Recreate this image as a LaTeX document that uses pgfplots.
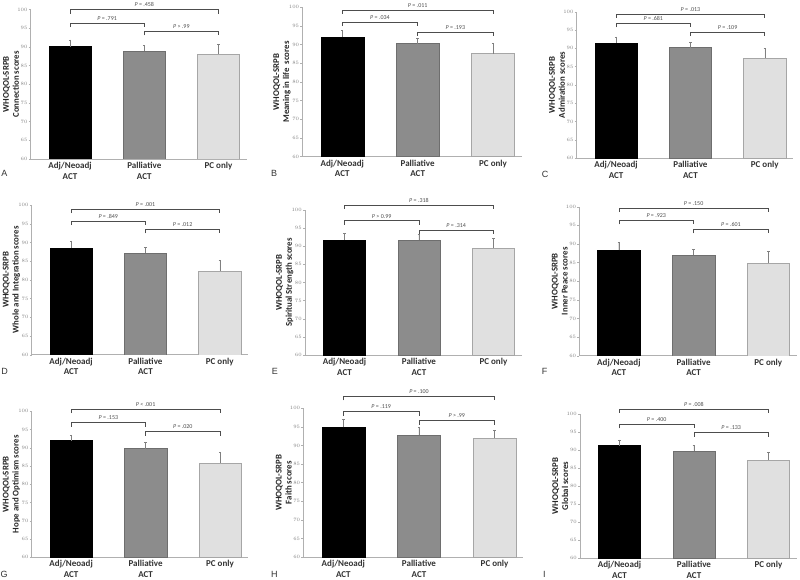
\documentclass[border=0pt]{standalone}
\usepackage{pgfplots}
\pgfplotsset{compat=1.18}
\usepackage{fontspec}
\setmainfont{Carlito}
\newfontfamily\arialfont{Liberation Sans}
\definecolor{barB}{HTML}{8C8C8C}
\definecolor{barBd}{HTML}{6E6E6E}
\definecolor{barC}{HTML}{E0E0E0}
\definecolor{barCd}{HTML}{A6A6A6}
\definecolor{axgray}{HTML}{B0B0B0}
\definecolor{brk}{HTML}{4D4D4D}
\pgfplotsset{
 panel/.style={
  scale only axis, anchor=south west,
  xmin=-0.53, xmax=2.38, ymin=60, ymax=100,
  ytick={60,65,...,100},
  xtick={0,1,2}, xticklabels={{Adj/Neoadj\\ACT},{Palliative\\ACT},{PC only}},
  axis x line*=bottom, axis y line*=left,
  axis line style={draw=axgray, line width=0.6pt},
  ytick style={draw=axgray, line width=0.4pt}, xtick style={draw=none},
  tick align=outside, major tick length=2pt,
  yticklabel style={font=\fontsize{3}{3}\selectfont, text=gray, inner sep=1pt},
  xticklabel style={align=center, font=\bfseries\fontsize{9}{10.5}\selectfont, text=black!80, inner sep=1pt},
  ylabel style={at={(axis description cs:0,0.5)}, anchor=south, yshift=11.5pt, align=center, font=\bfseries\fontsize{8.8}{10}\selectfont, text=black!85, inner sep=0pt},
  ybar, bar width=0.57, bar shift=0pt,
  clip mode=individual,
  error bars/y dir=plus, error bars/y explicit,
  error bars/error bar style={draw=gray, line width=0.5pt},
  error bars/error mark options={rotate=90, mark size=1.2pt, draw=gray, line width=0.5pt},
 },
 bA/.style={fill=black, draw=black},
 bB/.style={fill=barB, draw=barBd},
 bC/.style={fill=barC, draw=barCd},
}
\newcommand{\brk}[4]{%
 \draw[brk, line width=0.8pt] ([yshift=-4pt]axis cs:#1,#3) -- (axis cs:#1,#3) -- (axis cs:#2,#3) -- ([yshift=-4pt]axis cs:#2,#3);
 \node[font=\fontsize{6}{6}\selectfont, text=brk, anchor=south, inner sep=1pt, yshift=1.5pt] at (axis cs:{(#1+#2)/2},#3) {#4};}
\newcommand{\lett}[3]{\node[anchor=base west, font=\arialfont\fontsize{9}{9}\selectfont, text=black!80, inner sep=0pt] at (#1pt,#2pt) {#3};}
\begin{document}
\begin{tikzpicture}
\path[use as bounding box] (0,0) rectangle (800pt,579pt);
% A
\begin{axis}[panel, at={(30.7pt,420pt)}, width=216pt, height=149.3pt, ylabel={WHOQOL-SRPB\\Connection scores}]
\addplot[bA] coordinates {(0,90.1) +- (0,1.8)};
\addplot[bB] coordinates {(1,88.9) +- (0,1.5)};
\addplot[bC] coordinates {(2,88.0) +- (0,2.8)};
\brk{0}{2}{100.0}{{\itshape P} = .458}
\brk{0}{1}{96.4}{{\itshape P} = .791}
\brk{1}{2}{94.2}{{\itshape P} > .99}
\end{axis}
% B
\begin{axis}[panel, at={(302.3pt,422.3pt)}, width=219.4pt, height=149.4pt, ylabel={WHOQOL-SRPB\\Meaning in life\ \ scores}]
\addplot[bA] coordinates {(0,92.05) +- (0,1.75)};
\addplot[bB] coordinates {(1,90.3) +- (0,1.4)};
\addplot[bC] coordinates {(2,87.6) +- (0,2.7)};
\brk{0}{2}{99.3}{{\itshape P} = .011}
\brk{0}{1}{96.0}{{\itshape P} = .034}
\brk{1}{2}{93.4}{{\itshape P} = .193}
\end{axis}
% C
\begin{axis}[panel, at={(576.7pt,420.7pt)}, width=216.3pt, height=146.6pt, ylabel={WHOQOL-SRPB\\Admiration scores}]
\addplot[bA] coordinates {(0,91.5) +- (0,1.6)};
\addplot[bB] coordinates {(1,90.2) +- (0,1.5)};
\addplot[bC] coordinates {(2,87.3) +- (0,2.7)};
\brk{0}{2}{99.4}{{\itshape P} = .013}
\brk{0}{1}{96.8}{{\itshape P} = .681}
\brk{1}{2}{94.4}{{\itshape P} = .109}
\end{axis}
% D
\begin{axis}[panel, at={(31.7pt,224.3pt)}, width=216.3pt, height=149.7pt, ylabel={WHOQOL-SRPB\\Whole and Integration scores}]
\addplot[bA] coordinates {(0,88.5) +- (0,1.9)};
\addplot[bB] coordinates {(1,87.1) +- (0,1.65)};
\addplot[bC] coordinates {(2,82.4) +- (0,2.8)};
\brk{0}{2}{98.9}{{\itshape P} = .001}
\brk{0}{1}{95.7}{{\itshape P} = .849}
\brk{1}{2}{93.5}{{\itshape P} = .012}
\end{axis}
% E
\begin{axis}[panel, at={(305pt,224pt)}, width=216.7pt, height=145pt, ylabel={WHOQOL-SRPB\\Spiritual Strength scores}]
\addplot[bA] coordinates {(0,91.8) +- (0,1.8)};
\addplot[bB] coordinates {(1,91.65) +- (0,1.55)};
\addplot[bC] coordinates {(2,89.6) +- (0,2.5)};
\brk{0}{2}{101.4}{{\itshape P} = .318}
\brk{0}{1}{97.0}{{\itshape P} > 0.99}
\brk{1}{2}{94.5}{{\itshape P} = .314}
\end{axis}
% F
\begin{axis}[panel, at={(579.3pt,223.3pt)}, width=217.4pt, height=149pt, ylabel={WHOQOL-SRPB\\Inner Peace scores}]
\addplot[bA] coordinates {(0,88.3) +- (0,2.15)};
\addplot[bB] coordinates {(1,86.9) +- (0,1.7)};
\addplot[bC] coordinates {(2,84.8) +- (0,3.2)};
\brk{0}{2}{99.6}{{\itshape P} = .150}
\brk{0}{1}{96.3}{{\itshape P} = .923}
\brk{1}{2}{93.9}{{\itshape P} = .601}
\end{axis}
% G
\begin{axis}[panel, at={(31.7pt,21.7pt)}, width=216.6pt, height=146pt, ylabel={WHOQOL-SRPB\\Hope and Optimism scores}]
\addplot[bA] coordinates {(0,92.0) +- (0,1.5)};
\addplot[bB] coordinates {(1,89.8) +- (0,1.6)};
\addplot[bC] coordinates {(2,85.9) +- (0,2.9)};
\brk{0}{2}{100.6}{{\itshape P} < .001}
\brk{0}{1}{96.9}{{\itshape P} = .153}
\brk{1}{2}{94.4}{{\itshape P} = .020}
\end{axis}
% H
\begin{axis}[panel, at={(303.3pt,22pt)}, width=220pt, height=148.7pt, ylabel={WHOQOL-SRPB\\Faith scores}]
\addplot[bA] coordinates {(0,94.9) +- (0,2.2)};
\addplot[bB] coordinates {(1,92.85) +- (0,2.05)};
\addplot[bC] coordinates {(2,92.05) +- (0,2.15)};
\brk{0}{2}{103.2}{{\itshape P} = .100}
\brk{0}{1}{99.1}{{\itshape P} = .119}
\brk{1}{2}{96.7}{{\itshape P} > .99}
\end{axis}
% I
\begin{axis}[panel, at={(580pt,21pt)}, width=216.7pt, height=144pt, ylabel={WHOQOL-SRPB\\Global scores}]
\addplot[bA] coordinates {(0,91.2) +- (0,1.6)};
\addplot[bB] coordinates {(1,89.8) +- (0,1.4)};
\addplot[bC] coordinates {(2,87.2) +- (0,2.3)};
\brk{0}{2}{101.4}{{\itshape P} = .008}
\brk{0}{1}{97.1}{{\itshape P} = .400}
\brk{1}{2}{94.8}{{\itshape P} = .133}
\end{axis}
\lett{1.3}{402.3}{A}
\lett{271}{402.3}{B}
\lett{541.7}{401.7}{C}
\lett{1.3}{205}{D}
\lett{271.7}{204.7}{E}
\lett{541.7}{204.7}{F}
\lett{0.5}{1.5}{G}
\lett{271}{1.5}{H}
\lett{543}{1.5}{I}
\end{tikzpicture}
\end{document}
